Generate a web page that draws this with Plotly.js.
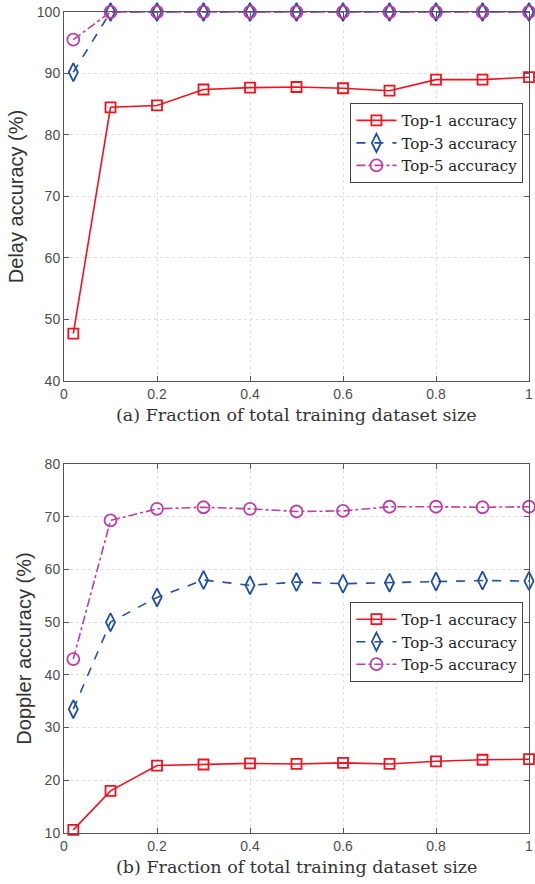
<!DOCTYPE html>
<html>
<head>
<meta charset="utf-8">
<script src="https://cdn.plot.ly/plotly-3.0.1.min.js"></script>
<style>html,body{margin:0;padding:0;background:#fff;}#chart{width:535px;height:884px;}</style>
</head>
<body>
<div id="chart"></div>
<script>
var fraction = [0.02, 0.1, 0.2, 0.3, 0.4, 0.5, 0.6, 0.7, 0.8, 0.9, 1.0];
var seriesNames = ["Top-1 accuracy", "Top-3 accuracy", "Top-5 accuracy"];
var delayTop1 = [47.7, 84.5, 84.8, 87.4, 87.7, 87.8, 87.6, 87.2, 89.0, 89.0, 89.4];
var delayTop3 = [90.2, 100, 100, 100, 100, 100, 100, 100, 100, 100, 100];
var delayTop5 = [95.5, 100, 100, 100, 100, 100, 100, 100, 100, 100, 100];
var dopplerTop1 = [10.6, 18.0, 22.8, 23.0, 23.2, 23.1, 23.3, 23.1, 23.6, 23.9, 24.0];
var dopplerTop3 = [33.5, 50.0, 54.7, 58.0, 57.0, 57.6, 57.3, 57.5, 57.7, 57.9, 57.8];
var dopplerTop5 = [43.0, 69.3, 71.5, 71.8, 71.5, 71.0, 71.1, 71.9, 71.9, 71.8, 71.9];
var xTicks = [0, 0.2, 0.4, 0.6, 0.8, 1];
var xTickText = ["0", "0.2", "0.4", "0.6", "0.8", "1"];
var delayTicks = [40, 50, 60, 70, 80, 90, 100];
var dopplerTicks = [10, 20, 30, 40, 50, 60, 70, 80];
var captions = ["(a) Fraction of total training dataset size", "(b) Fraction of total training dataset size"];
var yTitles = ["Delay accuracy (%)", "Doppler accuracy (%)"];

var colors = ["#f0121e", "#1f4ea6", "#bd3fa6"];
var dashes = ["solid", "dash", "dashdot"];
var symbols = ["square-open", "diamond-tall-open", "circle-open"];
var sizes = [10, 13, 12];

function mk(y, i, xa, ya) {
  return {
    x: fraction, y: y, xaxis: xa, yaxis: ya, name: seriesNames[i],
    type: "scatter", mode: "lines+markers", showlegend: true, cliponaxis: false,
    legend: ya === "y" ? "legend" : "legend2",
    line: {color: colors[i], width: 1.6, dash: dashes[i]},
    marker: {symbol: symbols[i], size: sizes[i], color: colors[i], line: {color: colors[i], width: 1.8}}
  };
}
var data = [
  mk(delayTop1, 0, "x", "y"), mk(delayTop3, 1, "x", "y"), mk(delayTop5, 2, "x", "y"),
  mk(dopplerTop1, 0, "x2", "y2"), mk(dopplerTop3, 1, "x2", "y2"), mk(dopplerTop5, 2, "x2", "y2")
];

var tickFont = {family: "Liberation Sans, Arial, sans-serif", size: 14, color: "#4d4d4d"};
function xax(anchor) {
  return {anchor: anchor, range: [0, 1], tickvals: xTicks, ticktext: xTickText, ticks: "inside", ticklen: 5,
    tickcolor: "#555", showline: true, linecolor: "#555", linewidth: 1, mirror: "ticks",
    showgrid: true, gridcolor: "#dedede", griddash: "dot", gridwidth: 1, zeroline: false,
    ticklabeloverflow: "allow",
    tickfont: tickFont, fixedrange: true};
}
function yax(anchor, dom, range, ticks, title) {
  return {anchor: anchor, domain: dom, range: range, tickvals: ticks, ticks: "inside", ticklen: 5,
    tickcolor: "#555", showline: true, linecolor: "#555", linewidth: 1, mirror: "ticks",
    showgrid: true, gridcolor: "#dedede", griddash: "dot", gridwidth: 1, zeroline: false,
    ticklabeloverflow: "allow",
    tickfont: tickFont,
    title: {text: title, font: {family: "Liberation Sans, Arial, sans-serif", size: 20, color: "#333"}, standoff: 7}};
}
var legFont = {family: "DejaVu Serif, serif", size: 15, color: "#222"};
var layout = {
  width: 535, height: 884,
  margin: {l: 64, r: 6, t: 12, b: 51},
  paper_bgcolor: "#fff", plot_bgcolor: "#fff",
  xaxis: xax("y"),
  yaxis: yax("x", [0.5506, 1], [40, 100], delayTicks, yTitles[0]),
  xaxis2: xax("y2"),
  yaxis2: yax("x2", [0, 0.4494], [10, 80], dopplerTicks, yTitles[1]),
  legend: {x: 0.988, y: 0.889, xanchor: "right", yanchor: "top", bgcolor: "#fff", bordercolor: "#444", borderwidth: 1,
    font: legFont, tracegroupgap: 0, itemwidth: 40},
  legend2: {x: 0.988, y: 0.2814, xanchor: "right", yanchor: "top", bgcolor: "#fff", bordercolor: "#444", borderwidth: 1,
    font: legFont, tracegroupgap: 0, itemwidth: 40},
  annotations: [
    {text: captions[0], xref: "paper", yref: "paper", x: 0.5, y: 0.509, xanchor: "center", yanchor: "middle", showarrow: false,
     font: {family: "DejaVu Serif, serif", size: 17.5, color: "#333"}},
    {text: captions[1], xref: "paper", yref: "paper", x: 0.5, y: -0.0414, xanchor: "center", yanchor: "middle", showarrow: false,
     font: {family: "DejaVu Serif, serif", size: 17.5, color: "#333"}}
  ],
  showlegend: true
};
Plotly.newPlot("chart", data, layout, {displayModeBar: false, staticPlot: true});
</script>
</body>
</html>
